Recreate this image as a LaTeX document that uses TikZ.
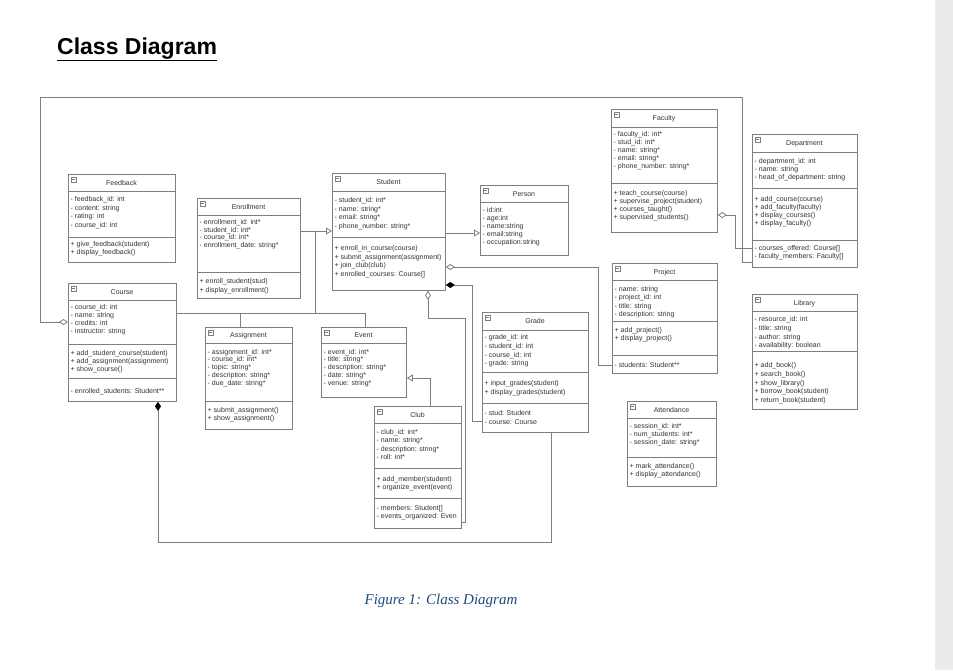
\documentclass[tikz,border=0pt]{standalone}
\usepackage{fontspec}
\setmainfont{Liberation Sans}
\newfontfamily\capfont{Liberation Serif}
\usetikzlibrary{arrows.meta}
\definecolor{boxline}{HTML}{7F7F7F}
\definecolor{txtc}{HTML}{333333}
\definecolor{capc}{HTML}{1F497D}
\definecolor{barc}{HTML}{EBEBEB}
\tikzset{
  umlbox/.style={draw=boxline, line width=0.8pt, fill=white, inner sep=0pt, anchor=north west},
  sepline/.style={draw=boxline, line width=0.8pt},
  txt/.style={font=\fontsize{7}{8}\selectfont, text=txtc, anchor=base west, inner sep=0pt},
  ttl/.style={font=\fontsize{7}{8}\selectfont, text=txtc, anchor=base, inner sep=0pt},
  iconbox/.style={draw=boxline, line width=0.4pt},
  conn/.style={draw=boxline, line width=0.8pt},
  gen/.style={conn, -{Triangle[open, width=7pt, length=6pt]}},
  agg/.style={conn, {Diamond[open, width=6pt, length=9pt]}-},
  comp/.style={conn, {Diamond[width=6pt, length=9pt, color=black]}-},
}
% name, x1, y1, x2, y2, header y, title
\newcommand\umlclass[7]{%
  \node[umlbox, minimum width={#4-#2}, minimum height={#5-#3}] (#1) at (#2,#3) {};
  \draw[sepline] (#1.west |- 0,#6) -- (#1.east |- 0,#6);
  \node[ttl] (#1-title) at ({(#2+#4)/2}, {(#3+#6)/2+2.5}) {#7};
  \draw[iconbox] (#2+3,#3+3) rectangle (#2+8,#3+8);
  \draw[iconbox] (#2+4.2,#3+5.5) -- (#2+6.8,#3+5.5);
}
\newcommand\usep[2]{\draw[sepline] (#1.west |- 0,#2) -- (#1.east |- 0,#2);}
% prefix, x, first baseline, step, list
\newcommand\ulines[5]{%
  \foreach \ltext [count=\nn] in {#5} {\node[txt] (#1-\nn) at (#2, {#3+(\nn-1)*(#4)}) {\ltext};}
}
\begin{document}
\begin{tikzpicture}[x=1pt,y=-1pt]
\useasboundingbox (0,0) rectangle (953,670);
\fill[barc] (935,0) rectangle (953,670);

\node[anchor=base west, inner sep=0pt, font=\fontsize{23}{26}\selectfont\bfseries] (title) at (57,54) {\underline{Class Diagram}};

% Feedback
\umlclass{feedback}{68}{174}{175}{262}{191}{Feedback}
\usep{feedback}{237}
\ulines{feedback-a}{70.5}{201.5}{8.6}{{- feedback\_id: int},{- content: string},{- rating: int},{- course\_id: int}}
\ulines{feedback-m}{70.5}{246}{8.5}{{+ give\_feedback(student)},{+ display\_feedback()}}

% Enrollment
\umlclass{enroll}{197}{198}{300}{298}{215}{Enrollment}
\usep{enroll}{272}
\ulines{enroll-a}{199.5}{224.5}{7.7}{{- enrollment\_id: int*},{- student\_id: int*},{- course\_id: int*},{- enrollment\_date: string*}}
\ulines{enroll-m}{199.5}{283.5}{8.5}{{+ enroll\_student(stud)},{+ display\_enrollment()}}

% Student
\umlclass{student}{332}{173}{445}{290}{191}{Student}
\usep{student}{237}
\ulines{student-a}{334.5}{202.5}{8.5}{{- student\_id: int*},{- name: string*},{- email: string*},{- phone\_number: string*}}
\ulines{student-m}{334.5}{250.5}{8.5}{{+ enroll\_in\_course(course)},{+ submit\_assignment(assignment)},{+ join\_club(club)},{+ enrolled\_courses: Course[]}}

% Person
\umlclass{person}{480}{185}{568}{255}{202}{Person}
\ulines{person-a}{482.5}{212.5}{8}{{- id:int},{- age:int},{- name:string},{- email:string},{- occupation:string}}

% Faculty
\umlclass{faculty}{611}{109}{717}{232}{127}{Faculty}
\usep{faculty}{183}
\ulines{faculty-a}{613.5}{136.5}{8}{{- faculty\_id: int*},{- stud\_id: int*},{- name: string*},{- email: string*},{- phone\_number: string*}}
\ulines{faculty-m}{613.5}{195.5}{8}{{+ teach\_course(course)},{+ supervise\_project(student)},{+ courses\_taught()},{+ supervised\_students()}}

% Department
\umlclass{dept}{752}{134}{857}{267}{152}{Department}
\usep{dept}{188}
\usep{dept}{240}
\ulines{dept-a}{754.5}{163.5}{8}{{- department\_id: int},{- name: string},{- head\_of\_department: string}}
\ulines{dept-m}{754.5}{201}{8}{{+ add\_course(course)},{+ add\_faculty(faculty)},{+ display\_courses()},{+ display\_faculty()}}
\ulines{dept-f}{754.5}{250.5}{8}{{- courses\_offered: Course[]},{- faculty\_members: Faculty[]}}

% Course
\umlclass{course}{68}{283}{176}{401}{300}{Course}
\usep{course}{344}
\usep{course}{378}
\ulines{course-a}{70.5}{309.5}{8.1}{{- course\_id: int},{- name: string},{- credits: int},{- instructor: string}}
\ulines{course-m}{70.5}{355}{8.1}{{+ add\_student\_course(student)},{+ add\_assignment(assignment)},{+ show\_course()}}
\ulines{course-f}{70.5}{393.5}{8}{{- enrolled\_students: Student**}}

% Assignment
\umlclass{assign}{205}{327}{292}{429}{343}{Assignment}
\usep{assign}{401}
\ulines{assign-a}{207.5}{354}{7.8}{{- assignment\_id: int*},{- course\_id: int*},{- topic: string*},{- description: string*},{- due\_date: string*}}
\ulines{assign-m}{207.5}{412.5}{8}{{+ submit\_assignment()},{+ show\_assignment()}}

% Event
\umlclass{event}{321}{327}{406}{397}{343}{Event}
\ulines{event-a}{323.5}{354}{7.8}{{- event\_id: int*},{- title: string*},{- description: string*},{- date: string*},{- venue: string*}}

% Club
\umlclass{club}{374}{406}{461}{528}{423}{Club}
\usep{club}{468}
\usep{club}{498}
\ulines{club-a}{376.5}{434.5}{8.3}{{- club\_id: int*},{- name: string*},{- description: string*},{- roll: int*}}
\ulines{club-m}{376.5}{481}{8.5}{{+ add\_member(student)},{+ organize\_event(event)}}
\ulines{club-f}{376.5}{510}{8.7}{{- members: Student[]},{- events\_organized: Even}}

% Grade
\umlclass{grade}{482}{312}{588}{432}{330}{Grade}
\usep{grade}{372}
\usep{grade}{403}
\ulines{grade-a}{484.5}{339.5}{8.8}{{- grade\_id: int},{- student\_id: int},{- course\_id: int},{- grade: string}}
\ulines{grade-m}{484.5}{385.5}{8.7}{{+ input\_grades(student)},{+ display\_grades(student)}}
\ulines{grade-f}{484.5}{415.5}{8.8}{{- stud: Student},{- course: Course}}

% Project
\umlclass{project}{612}{263}{717}{373}{280}{Project}
\usep{project}{321}
\usep{project}{355}
\ulines{project-a}{614.5}{291.5}{8.3}{{- name: string},{- project\_id: int},{- title: string},{- description: string}}
\ulines{project-m}{614.5}{332}{8.7}{{+ add\_project()},{+ display\_project()}}
\ulines{project-f}{614.5}{367}{8}{{- students: Student**}}

% Library
\umlclass{library}{752}{294}{857}{409}{311}{Library}
\usep{library}{351}
\ulines{library-a}{754.5}{321.5}{8.8}{{- resource\_id: int},{- title: string},{- author: string},{- availability: boolean}}
\ulines{library-m}{754.5}{367.5}{8.8}{{+ add\_book()},{+ search\_book()},{+ show\_library()},{+ borrow\_book(student)},{+ return\_book(student)}}

% Attendance
\umlclass{attend}{627}{401}{716}{486}{418}{Attendance}
\usep{attend}{457}
\ulines{attend-a}{629.5}{428.5}{8.2}{{- session\_id: int*},{- num\_students: int*},{- session\_date: string*}}
\ulines{attend-m}{629.5}{468}{8.2}{{+ mark\_attendance()},{+ display\_attendance()}}

% connectors
\draw[gen] (enroll.east |- 0,231) -- (student.west |- 0,231);
\draw[conn] (course.east |- 0,313) -| (315,231);
\draw[conn] (assign.north -| 240,0) -- (240,313);
\draw[conn] (event.north -| 365,0) |- (315,313);
\draw[gen] (student.east |- 0,233) -- (person.west |- 0,233);
\draw[agg] (student.east |- 0,267) -| (598,365) -- (project.west |- 0,365);
\draw[comp] (student.east |- 0,285) -| (472,421) -- (grade.west |- 0,421);
\draw[agg] (student.south -| 428,0) |- (465,318) |- (club.east |- 0,522);
\draw[gen] (club.north -| 430,0) |- (event.east |- 0,378);
\draw[comp] (course.south -| 158,0) |- (551,542) -- (grade.south -| 551,0);
\draw[agg] (course.west |- 0,322) -| (40,97) -| (742,262) -- (dept.west |- 0,262);
\draw[agg] (faculty.east |- 0,215) -| (735,248) -- (dept.west |- 0,248);

\node[anchor=base, inner sep=0pt, text=capc, font=\capfont\fontsize{15}{18}\selectfont\itshape] (caption) at (441,604) {Figure 1: Class Diagram};
\end{tikzpicture}
\end{document}
